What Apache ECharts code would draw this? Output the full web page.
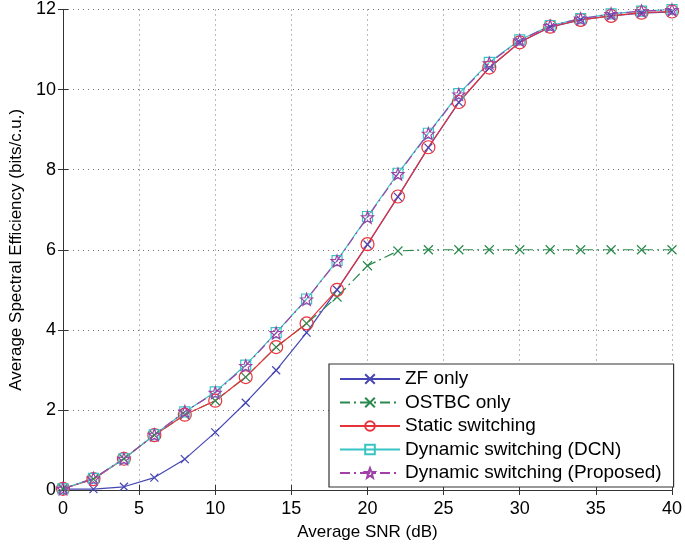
<!DOCTYPE html>
<html>
<head>
<meta charset="utf-8">
<script src="https://cdn.jsdelivr.net/npm/echarts@6/dist/echarts.min.js"></script>
<style>html,body{margin:0;padding:0;background:#fff;}#c{width:685px;height:546px;}</style>
</head>
<body>
<div id="c"></div>
<script>
const snr = [0,2,4,6,8,10,12,14,16,18,20,22,24,26,28,30,32,34,36,38,40];
const zfOnly = [0.02,0.02,0.08,0.31,0.77,1.44,2.18,2.99,3.93,5.0,6.13,7.32,8.55,9.68,10.54,11.18,11.56,11.74,11.84,11.91,11.94];
const ostbcOnly = [0.03,0.27,0.78,1.37,1.88,2.23,2.82,3.57,4.16,4.82,5.6,5.97,6.0,6.0,6.0,6.0,6.0,6.0,6.0,6.0,6.0];
const staticSw = [0.03,0.27,0.78,1.37,1.88,2.23,2.82,3.57,4.16,5.0,6.14,7.33,8.56,9.69,10.55,11.18,11.57,11.74,11.84,11.92,11.95];
const dcn = [0.03,0.29,0.78,1.38,1.95,2.45,3.12,3.93,4.77,5.73,6.83,7.91,8.91,9.9,10.68,11.24,11.6,11.77,11.89,11.96,12.0];
const proposed = [0.03,0.29,0.78,1.38,1.96,2.43,3.1,3.92,4.76,5.72,6.81,7.89,8.9,9.88,10.66,11.23,11.59,11.77,11.89,11.96,11.99];
const names = ['ZF only','OSTBC only','Static switching','Dynamic switching (DCN)','Dynamic switching (Proposed)'];
const xTicks = [0,5,10,15,20,25,30,35,40];
const yTicks = [0,2,4,6,8,10,12];

const crossPath = 'path://M0,0L10,10M10,0L0,10';
function starPath(){
  let p = [];
  for (let i=0;i<10;i++){
    const r = i%2===0 ? 10 : 4.2;
    const a = -Math.PI/2 + i*Math.PI/5;
    p.push((10+r*Math.cos(a)).toFixed(2)+','+(10+r*Math.sin(a)).toFixed(2));
  }
  return 'path://M'+p.join('L')+'Z';
}
const dashDot = [10,4,2,4];
const pair = a => snr.map((x,i)=>[x,a[i]]);

const chart = echarts.init(document.getElementById('c'));
const font = 'Liberation Sans, Arial, sans-serif';
const mkSeries = (name, data, color, symbol, size, lineType) => ({
  name, type:'line', data: pair(data), symbol, symbolSize: size,
  showSymbol: true,
  lineStyle:{color, width:1.2, type: lineType},
  itemStyle:{color: 'rgba(0,0,0,0)', borderColor: color, borderWidth: 1.2},
  emphasis:{disabled:true}, animation:false
});
chart.setOption({
  animation:false,
  textStyle:{fontFamily:font},
  grid:{left:55, right:11, top:9.5, bottom:50, containLabel:false},
  xAxis:[{
    type:'value', min:0, max:40, interval:5,
    name:'Average SNR (dB)', nameLocation:'middle', nameGap:34,
    nameTextStyle:{fontSize:17, color:'#000', fontFamily:font},
    axisLine:{show:true, lineStyle:{color:'#333', width:1}},
    axisTick:{show:true, inside:true, length:5, lineStyle:{color:'#333'}},
    axisLabel:{color:'#000', fontSize:18, margin:10, fontFamily:font, formatter: v => xTicks.includes(v) ? String(v) : ''},
    splitLine:{show:true, lineStyle:{color:'#777', type:[1,4], width:1}}
  },{
    type:'value', min:0, max:40, interval:5, position:'top',
    axisLine:{show:true, lineStyle:{color:'#333', width:1}},
    axisTick:{show:true, inside:true, length:5, lineStyle:{color:'#333'}},
    axisLabel:{show:false}, splitLine:{show:false}
  }],
  yAxis:[{
    type:'value', min:0, max:12, interval:2,
    name:'Average Spectral Efficiency (bits/c.u.)', nameLocation:'middle', nameGap:38,
    nameTextStyle:{fontSize:17, color:'#000', fontFamily:font},
    axisLine:{show:true, lineStyle:{color:'#333', width:1}},
    axisTick:{show:true, inside:true, length:5, lineStyle:{color:'#333'}},
    axisLabel:{color:'#000', fontSize:18, margin:7, fontFamily:font, formatter: v => yTicks.includes(v) ? String(v) : ''},
    splitLine:{show:true, lineStyle:{color:'#777', type:[1,4], width:1}}
  },{
    type:'value', min:0, max:12, interval:2, position:'right',
    axisLine:{show:true, lineStyle:{color:'#333', width:1}},
    axisTick:{show:true, inside:true, length:5, lineStyle:{color:'#333'}},
    axisLabel:{show:false}, splitLine:{show:false}
  }],
  legend:{
    orient:'vertical', left:329, top:364,
    padding:[5.5, 12, 4.5, 10], itemGap:4.5, itemWidth:60, itemHeight:12,
    backgroundColor:'#fff', borderColor:'#333', borderWidth:1.2,
    textStyle:{fontSize:19, color:'#000', fontFamily:font},
    data:names
  },
  series:[
    mkSeries(names[0], zfOnly, '#4646b4', crossPath, 8, 'solid'),
    mkSeries(names[1], ostbcOnly, '#2a8a4e', crossPath, 9, dashDot),
    mkSeries(names[2], staticSw, '#e8323a', 'circle', 13, 'solid'),
    mkSeries(names[3], dcn, '#38c4c4', 'rect', 10, 'solid'),
    mkSeries(names[4], proposed, '#a040a8', starPath(), 12, dashDot)
  ]
});
</script>
</body>
</html>
